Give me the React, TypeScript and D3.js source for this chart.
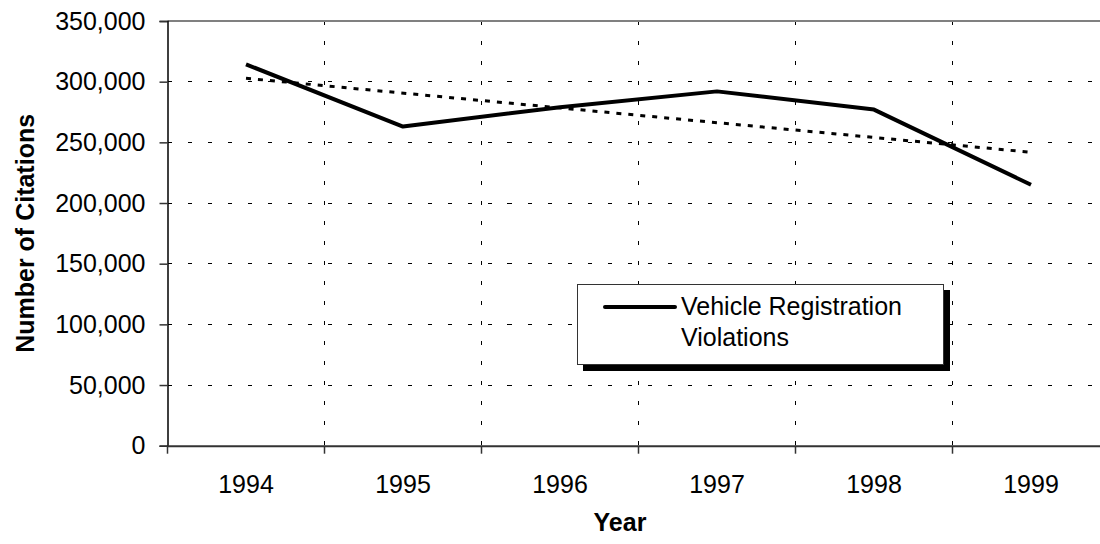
import React, { useEffect, useRef } from 'react';
import * as d3 from 'd3';

// values
const years = ['1994', '1995', '1996', '1997', '1998', '1999'];
const citations = [314300, 263000, 279000, 292000, 277000, 215000];
// Excel linear trendline, end points
const trendYears = ['1994', '1999'];
const trendValues = [302800, 241800];
const yTicks = [0, 50000, 100000, 150000, 200000, 250000, 300000, 350000];
const seriesName = ['Vehicle Registration', 'Violations'];

const FONT = '"Liberation Sans", Arial, sans-serif';

const App = () => {
  const svgRef = useRef<SVGSVGElement>(null);

  useEffect(() => {
    const svg = d3.select(svgRef.current);
    svg.selectAll('*').remove();

    const left = 167.5;
    const top = 21;
    const bottom = 445.7;
    const bandW = 157;
    const right = left + bandW * years.length;

    const x = d3.scaleBand().domain(years).range([left, right]);
    const y = d3.scaleLinear().domain([0, 350000]).range([bottom, top]);

    // horizontal grid
    svg
      .append('g')
      .selectAll('line')
      .data(yTicks.filter((d) => d > 0 && d < 350000))
      .join('line')
      .attr('x1', left)
      .attr('x2', right)
      .attr('y1', (d) => y(d))
      .attr('y2', (d) => y(d))
      .attr('stroke', '#000')
      .attr('stroke-width', 1)
      .attr('stroke-dasharray', '4,16')
      .attr('shape-rendering', 'crispEdges');

    // vertical grid at category boundaries
    svg
      .append('g')
      .selectAll('line')
      .data(years.slice(1))
      .join('line')
      .attr('x1', (d) => x(d)!)
      .attr('x2', (d) => x(d)!)
      .attr('y1', top)
      .attr('y2', bottom)
      .attr('stroke', '#000')
      .attr('stroke-width', 1)
      .attr('stroke-dasharray', '4,16')
      .attr('shape-rendering', 'crispEdges');

    // plot border (top / right)
    svg
      .append('path')
      .attr('d', `M${left},${top}H${right}V${bottom}`)
      .attr('fill', 'none')
      .attr('stroke', '#808080')
      .attr('stroke-width', 2);

    // y axis
    const yAxis = svg
      .append('g')
      .attr('transform', `translate(${left},0)`)
      .call(
        d3
          .axisLeft(y)
          .tickValues(yTicks)
          .tickSize(8)
          .tickPadding(14)
          .tickFormat((d) => d3.format(',')(d as number))
      );
    yAxis.select('.domain').attr('stroke', '#000').attr('stroke-width', 1.5);
    yAxis.selectAll('.tick line').attr('stroke', '#333').attr('stroke-width', 1.5);
    yAxis
      .selectAll('.tick text')
      .attr('font-family', FONT)
      .attr('font-size', 25)
      .attr('fill', '#000');

    // x axis
    const xAxis = svg
      .append('g')
      .attr('transform', `translate(0,${bottom})`)
      .call(d3.axisBottom(x).tickSize(0).tickPadding(30));
    xAxis.select('.domain').attr('stroke', '#333').attr('stroke-width', 2);
    xAxis
      .selectAll('.tick text')
      .attr('font-family', FONT)
      .attr('font-size', 25)
      .attr('fill', '#000');
    xAxis
      .append('g')
      .selectAll('line')
      .data(years.concat(['end']))
      .join('line')
      .attr('x1', (d, i) => left + i * bandW)
      .attr('x2', (d, i) => left + i * bandW)
      .attr('y1', 0)
      .attr('y2', 8)
      .attr('stroke', '#333')
      .attr('stroke-width', 1.5);

    // trendline (dotted)
    const line = d3
      .line<number>()
      .x((d, i) => x(trendYears[i])! + x.bandwidth() / 2)
      .y((d) => y(d));
    svg
      .append('path')
      .datum(trendValues)
      .attr('fill', 'none')
      .attr('stroke', '#000')
      .attr('stroke-width', 3)
      .attr('stroke-dasharray', '5,7')
      .attr('d', line);

    // data line
    const dataLine = d3
      .line<number>()
      .x((d, i) => x(years[i])! + x.bandwidth() / 2)
      .y((d) => y(d));
    svg
      .append('path')
      .datum(citations)
      .attr('fill', 'none')
      .attr('stroke', '#000')
      .attr('stroke-width', 4)
      .attr('stroke-linejoin', 'round')
      .attr('d', dataLine);

    // legend
    const lg = svg.append('g');
    lg.append('rect')
      .attr('x', 583)
      .attr('y', 290)
      .attr('width', 367)
      .attr('height', 81)
      .attr('fill', '#000');
    lg.append('rect')
      .attr('x', 577.5)
      .attr('y', 284.5)
      .attr('width', 366)
      .attr('height', 80)
      .attr('fill', '#fff')
      .attr('stroke', '#333')
      .attr('stroke-width', 1);
    lg.append('line')
      .attr('x1', 605)
      .attr('x2', 675)
      .attr('y1', 307)
      .attr('y2', 307)
      .attr('stroke', '#000')
      .attr('stroke-width', 4)
      .attr('stroke-linecap', 'round');
    lg.selectAll('text')
      .data(seriesName)
      .join('text')
      .attr('x', 681)
      .attr('y', (d, i) => 315 + i * 31)
      .attr('font-family', FONT)
      .attr('font-size', 25)
      .attr('fill', '#000')
      .text((d) => d);

    // axis titles
    svg
      .append('text')
      .attr('transform', `translate(34,${(top + bottom) / 2}) rotate(-90)`)
      .attr('text-anchor', 'middle')
      .attr('font-family', FONT)
      .attr('font-weight', 'bold')
      .attr('font-size', 25)
      .text('Number of Citations');
    svg
      .append('text')
      .attr('x', 620)
      .attr('y', 531)
      .attr('text-anchor', 'middle')
      .attr('font-family', FONT)
      .attr('font-weight', 'bold')
      .attr('font-size', 25)
      .text('Year');
  }, []);

  return (
    <svg
      ref={svgRef}
      width={1100}
      height={544}
      style={{ position: 'absolute', left: 0, top: 0, background: '#fff' }}
    />
  );
};

export default App;
